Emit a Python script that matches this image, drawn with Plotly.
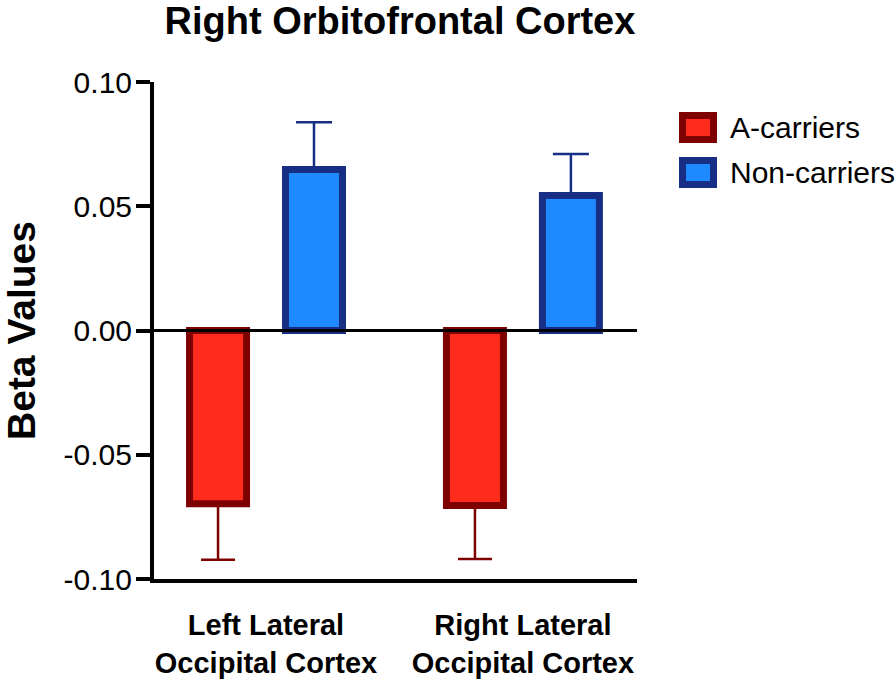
import plotly.graph_objects as go

categories = ["Left Lateral<br>Occipital Cortex", "Right Lateral<br>Occipital Cortex"]
series_names = ["A-carriers", "Non-carriers"]
a_carriers = [-0.0697, -0.0704]
a_carriers_err = [0.0226, 0.0216]
non_carriers = [0.0648, 0.0543]
non_carriers_err = [0.0190, 0.0167]
y_ticks = [-0.10, -0.05, 0.00, 0.05, 0.10]
y_tick_labels = ["-0.10", "-0.05", "0.00", "0.05", "0.10"]

RED_FILL, RED_LINE = "#FF2B1C", "#7F0000"
BLUE_FILL, BLUE_LINE = "#1F89FF", "#172E84"
FONT = "Liberation Sans, Arial, sans-serif"

W, H = 896, 680
L, R, T, B = 154, 637, 82, 579

def px_x(px):
    return (px - L) / (R - L)

def px_y(py):
    return (B - py) / (B - T)

fig = go.Figure()
fig.add_trace(go.Bar(
    x=categories, y=a_carriers, name=series_names[0],
    marker=dict(color=RED_FILL, line=dict(color=RED_LINE, width=7)),
    error_y=dict(type="data", symmetric=False, array=[0, 0], arrayminus=a_carriers_err,
                 color=RED_LINE, thickness=2.5, width=17),
    showlegend=False,
))
fig.add_trace(go.Bar(
    x=categories, y=non_carriers, name=series_names[1],
    marker=dict(color=BLUE_FILL, line=dict(color=BLUE_LINE, width=7)),
    error_y=dict(type="data", symmetric=False, array=non_carriers_err, arrayminus=[0, 0],
                 color=BLUE_LINE, thickness=2.5, width=18),
    showlegend=False,
))

# zero line above bars
fig.add_shape(type="line", xref="paper", yref="y", x0=0, x1=1, y0=0, y1=0,
              line=dict(color="black", width=3), layer="above")

# legend drawn manually
legend_items = [(series_names[0], RED_FILL, RED_LINE, 127.5), (series_names[1], BLUE_FILL, BLUE_LINE, 172.5)]
for name, fill, line, cy in legend_items:
    fig.add_shape(type="rect", xref="paper", yref="paper",
                  x0=px_x(682.5), x1=px_x(713.5), y0=px_y(cy - 12), y1=px_y(cy + 12),
                  fillcolor=fill, line=dict(color=line, width=7))
    fig.add_annotation(xref="paper", yref="paper", x=px_x(728), y=px_y(cy),
                       text=name, showarrow=False, xanchor="left", yanchor="middle",
                       font=dict(family=FONT, size=30, color="black"))

fig.update_layout(
    width=W, height=H,
    margin=dict(l=L, r=W - R, t=T, b=H - B, autoexpand=False),
    plot_bgcolor="white", paper_bgcolor="white",
    barmode="group", bargap=0.253, bargroupgap=0.406,
    showlegend=False,
    title=dict(text="<b>Right Orbitofrontal Cortex</b>", x=400 / W, xanchor="center",
               xref="container",
               y=1 - 21 / H, yanchor="middle", yref="container",
               font=dict(family=FONT, size=38, color="black")),
    font=dict(family=FONT, color="black"),
)
fig.update_xaxes(
    range=[-0.436, 1.444], showline=True, linecolor="black", linewidth=4,
    ticks="", showgrid=False, zeroline=False,
    tickfont=dict(family=FONT, size=29, color="black", weight="bold"),
    ticklabelstandoff=17,
)
fig.update_yaxes(
    range=[-0.1, 0.1], tickvals=y_ticks, ticktext=y_tick_labels,
    showline=True, linecolor="black", linewidth=4,
    ticks="outside", ticklen=14, tickwidth=4, tickcolor="black",
    showgrid=False, zeroline=False,
    tickfont=dict(family=FONT, size=30, color="black"),
    ticklabelstandoff=-2,
    title=dict(text="<b>Beta Values</b>", font=dict(family=FONT, size=39, color="black"), standoff=38),
)
fig.write_html("out.html", config={"displayModeBar": False},
               post_script="document.body.style.margin='0';document.body.style.overflow='hidden';")
